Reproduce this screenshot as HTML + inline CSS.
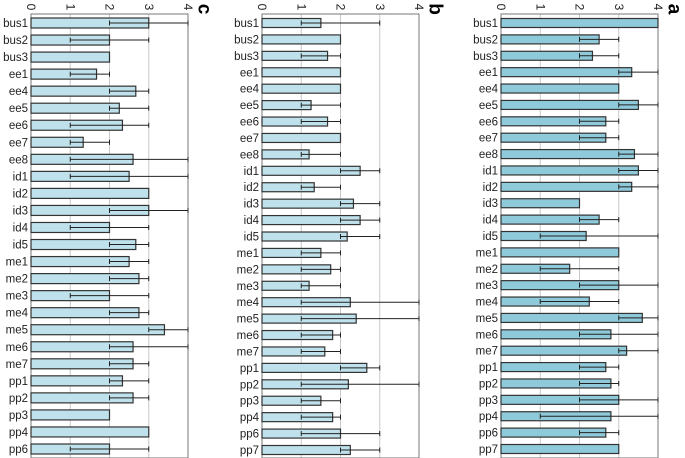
<!DOCTYPE html>
<html><head><meta charset="utf-8"><style>
body{margin:0;background:#fff;}
svg{display:block;font-family:"Liberation Sans",sans-serif;}
</style></head><body>
<svg id="chart" width="685" height="458"></svg>
<script>
const labelsC=["bus1","bus2","bus3","ee1","ee4","ee5","ee6","ee7","ee8","id1","id2","id3","id4","id5","me1","me2","me3","me4","me5","me6","me7","pp1","pp2","pp3","pp4","pp6"];
const valuesC=[3,2,2,1.67,2.67,2.25,2.33,1.33,2.6,2.5,3,3,2,2.67,2.5,2.75,2,2.75,3.4,2.6,2.6,2.33,2.6,2,3,2];
const lowC=[2,1,null,1,2,2,1,1,1,1,null,2,1,2,2,2,1,2,3,2,2,2,2,null,null,1];
const highC=[4,3,null,2,3,3,3,2,4,4,null,4,3,3,3,3,3,3,4,4,3,3,3,null,null,3];
const labelsB=["bus1","bus2","bus3","ee1","ee4","ee5","ee6","ee7","ee8","id1","id2","id3","id4","id5","me1","me2","me3","me4","me5","me6","me7","pp1","pp2","pp3","pp4","pp6","pp7"];
const valuesB=[1.5,2,1.67,2,2,1.25,1.67,2,1.2,2.5,1.33,2.33,2.5,2.17,1.5,1.75,1.2,2.25,2.4,1.8,1.6,2.67,2.2,1.5,1.8,2,2.25];
const lowB=[1,null,1,null,null,1,1,null,1,2,1,2,2,2,1,1,1,1,1,1,1,2,1,1,1,1,2];
const highB=[3,null,2,null,null,2,2,null,2,3,2,3,3,3,2,2,2,4,4,2,2,3,4,2,2,3,3];
const labelsA=labelsB;
const valuesA=[4,2.5,2.33,3.33,3,3.5,2.67,2.67,3.4,3.5,3.33,2,2.5,2.17,3,1.75,3,2.25,3.6,2.8,3.2,2.67,2.8,3,2.8,2.67,3];
const lowA=[null,2,2,3,null,3,2,2,3,3,3,null,2,1,null,1,2,1,3,2,3,2,2,2,1,2,null];
const highA=[null,3,3,4,null,4,3,3,4,4,4,null,3,4,null,3,4,3,4,4,4,3,3,4,4,3,null];
const ticks=["0","1","2","3","4"];

const NS="http://www.w3.org/2000/svg";
const svg=document.getElementById('chart');
function mk(tag,attrs,parent){const e=document.createElementNS(NS,tag);for(const k in attrs)e.setAttribute(k,attrs[k]);(parent||svg).appendChild(e);return e;}

function panel(id,letter,x0,x4,yTop,yBot,firstY,lastY,labels,vals,lo,hi,fill,barH){
  const g=mk('g',{});
  
  
  const xs=v=>x0+(x4-x0)*v/4;
  const n=labels.length;
  const ys=i=>firstY+(lastY-firstY)*i/(n-1);
  for(let t=1;t<4;t++){const l=mk('line',{x1:xs(t),x2:xs(t),y1:yTop,y2:yBot,stroke:'#c8c8c8','stroke-width':1},g);
    }
  const fr=mk('rect',{x:x0,y:yTop,width:x4-x0,height:yBot-yTop,fill:'none',stroke:'#777','stroke-width':1},g);
  
  ticks.forEach((t,i)=>{const x=xs(+t);const tx=mk('text',{x:x,y:7,'font-size':12,fill:'#222','text-anchor':'middle','dominant-baseline':'central',transform:`rotate(90 ${x} 7)`},g);
    tx.textContent=t;});
  const L=mk('text',{x:x4+16,y:9,'font-size':19,'font-weight':'bold',fill:'#000','text-anchor':'middle','dominant-baseline':'central',transform:`rotate(90 ${x4+16} 9)`},g);
  L.textContent=letter;
  labels.forEach((lab,i)=>{
    const y=ys(i);
    const t=mk('text',{x:x0-3,y:y+4,'font-size':11.5,fill:'#222','text-anchor':'end'},g);
    t.textContent=lab;
    const r=mk('rect',{x:x0,y:y-barH/2,width:xs(vals[i])-x0,height:barH,fill:fill,stroke:'#333','stroke-width':1.2},g);
    
    if(lo[i]!=null){
      const e=mk('line',{x1:xs(lo[i]),x2:xs(hi[i]),y1:y,y2:y,stroke:'#222','stroke-width':1},g);
      
      [lo[i],hi[i]].forEach(v=>{const c=mk('line',{x1:xs(v),x2:xs(v),y1:y-2.5,y2:y+2.5,stroke:'#222','stroke-width':1},g);
        });
    }
  });
}
panel('c','c',31,188,14,458,23,449,labelsC,valuesC,lowC,highC,'#bfe1eb',10);
panel('b','b',262,419,14,458,23,450,labelsB,valuesB,lowB,highB,'#bfe1eb',9);
panel('a','a',501,658,14,458,23,449,labelsA,valuesA,lowA,highA,'#8fcadb',9);
</script>
</body></html>
